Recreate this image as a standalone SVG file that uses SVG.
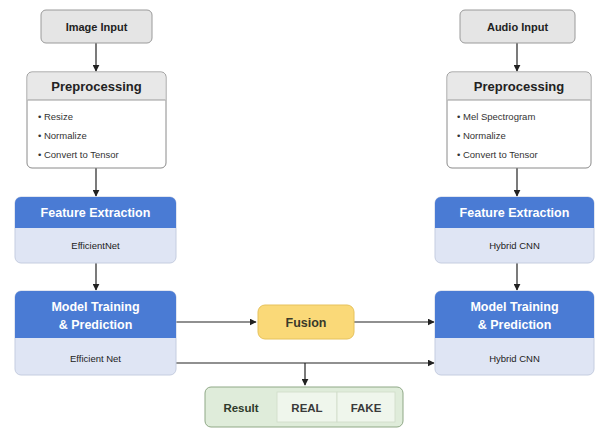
<svg xmlns="http://www.w3.org/2000/svg" width="595" height="431" viewBox="0 0 595 431">
<defs>
<marker id="ah" viewBox="0 0 10 10" refX="9" refY="5" markerWidth="7" markerHeight="7" markerUnits="userSpaceOnUse" orient="auto"><path d="M0,0 L10,5 L0,10 z" fill="#222"/></marker>
<style>
text{font-family:"Liberation Sans",Arial,sans-serif;}
.in{fill:#e5e5e5;stroke:#9a9a9a;stroke-width:1}
.pb{fill:#ffffff;stroke:#8a8a8a;stroke-width:1}
.ph{fill:#e8e8e8}
.bh{fill:#4a7bd4}
.bb{fill:#dfe5f4;stroke:#c5cde0;stroke-width:1}
.t1{font-size:11px;font-weight:bold;fill:#222;text-anchor:middle}
.t2{font-size:13px;font-weight:bold;fill:#222;text-anchor:middle}
.bl{font-size:9.5px;fill:#333}
.tw{font-size:12.5px;font-weight:bold;fill:#fff;text-anchor:middle}
.ts{font-size:9.5px;fill:#222;text-anchor:middle}
.c{stroke:#222;stroke-width:1.2;fill:none;marker-end:url(#ah)}
</style>
</defs>
<rect width="595" height="431" fill="#fff"/>
<g id="connectors">
<line class="c" x1="96" y1="43" x2="96" y2="71"/>
<line class="c" x1="96" y1="168" x2="96" y2="196"/>
<line class="c" x1="96" y1="263" x2="96" y2="290"/>
<line class="c" x1="517" y1="43" x2="517" y2="71"/>
<line class="c" x1="517" y1="168" x2="517" y2="196"/>
<line class="c" x1="517" y1="263" x2="517" y2="290"/>
<line class="c" x1="176" y1="322" x2="256" y2="322"/>
<line class="c" x1="354" y1="322" x2="434" y2="322"/>
<line class="c" x1="176" y1="363" x2="434" y2="363"/>
<line class="c" x1="305" y1="363" x2="305" y2="385"/>
</g>
<g id="image-input">
<rect class="in" x="41" y="10" width="111" height="33" rx="5"/>
<text class="t1" x="96.5" y="30.5">Image Input</text>
</g>
<g id="audio-input">
<rect class="in" x="460" y="10" width="115" height="33" rx="5"/>
<text class="t1" x="517.5" y="30.5">Audio Input</text>
</g>
<g id="preprocessing-left">
<rect class="pb" x="27" y="72" width="139" height="96" rx="5"/>
<path class="ph" d="M32,72.5 H161 A4.5,4.5 0 0 1 165.5,77 V100 H27.5 V77 A4.5,4.5 0 0 1 32,72.5 z"/>
<line x1="27.5" y1="100" x2="165.5" y2="100" stroke="#9a9a9a" stroke-width="1"/>
<text class="t2" x="96.5" y="91">Preprocessing</text>
<text class="bl" x="38" y="120">• Resize</text>
<text class="bl" x="38" y="139">• Normalize</text>
<text class="bl" x="38" y="158">• Convert to Tensor</text>
</g>
<g id="preprocessing-right">
<rect class="pb" x="447" y="72" width="144" height="96" rx="5"/>
<path class="ph" d="M452,72.5 H586 A4.5,4.5 0 0 1 590.5,77 V100 H447.5 V77 A4.5,4.5 0 0 1 452,72.5 z"/>
<line x1="447.5" y1="100" x2="590.5" y2="100" stroke="#9a9a9a" stroke-width="1"/>
<text class="t2" x="519" y="91">Preprocessing</text>
<text class="bl" x="457" y="120">• Mel Spectrogram</text>
<text class="bl" x="457" y="139">• Normalize</text>
<text class="bl" x="457" y="158">• Convert to Tensor</text>
</g>
<g id="feature-left">
<rect class="bb" x="15" y="197" width="161" height="66" rx="6"/>
<path class="bh" d="M21,197 H170 A6,6 0 0 1 176,203 V228 H15 V203 A6,6 0 0 1 21,197 z"/>
<text class="tw" x="95.5" y="217">Feature Extraction</text>
<text class="ts" x="95.5" y="249">EfficientNet</text>
</g>
<g id="feature-right">
<rect class="bb" x="435" y="197" width="159" height="66" rx="6"/>
<path class="bh" d="M441,197 H588 A6,6 0 0 1 594,203 V228 H435 V203 A6,6 0 0 1 441,197 z"/>
<text class="tw" x="514.5" y="217">Feature Extraction</text>
<text class="ts" x="514.5" y="249">Hybrid CNN</text>
</g>
<g id="model-left">
<rect class="bb" x="15" y="291" width="161" height="84" rx="6"/>
<path class="bh" d="M21,291 H170 A6,6 0 0 1 176,297 V338 H15 V297 A6,6 0 0 1 21,291 z"/>
<text class="tw" x="95.5" y="311">Model Training</text>
<text class="tw" x="95.5" y="329">&amp; Prediction</text>
<text class="ts" x="95.5" y="362">Efficient Net</text>
</g>
<g id="model-right">
<rect class="bb" x="435" y="291" width="159" height="84" rx="6"/>
<path class="bh" d="M441,291 H588 A6,6 0 0 1 594,297 V338 H435 V297 A6,6 0 0 1 441,291 z"/>
<text class="tw" x="514.5" y="311">Model Training</text>
<text class="tw" x="514.5" y="329">&amp; Prediction</text>
<text class="ts" x="514.5" y="362">Hybrid CNN</text>
</g>
<g id="fusion">
<rect x="258" y="305" width="96" height="34" rx="7" fill="#fad978" stroke="#e6c25c" stroke-width="1"/>
<text x="306" y="326.5" font-size="12.5" font-weight="bold" fill="#3a3a2a" text-anchor="middle">Fusion</text>
</g>
<g id="result">
<rect x="205" y="387" width="198" height="40" rx="6" fill="#dfecda" stroke="#8fa886" stroke-width="1"/>
<rect x="277" y="392" width="60" height="30" fill="#eff6ec" stroke="#cfdcc9" stroke-width="0.8"/>
<rect x="337" y="392" width="58" height="30" fill="#eff6ec" stroke="#cfdcc9" stroke-width="0.8"/>
<text x="241" y="411.5" font-size="11.5" font-weight="bold" fill="#2e3a2a" text-anchor="middle">Result</text>
<text x="307" y="411.5" font-size="11.5" font-weight="bold" fill="#3a3a3a" text-anchor="middle">REAL</text>
<text x="366" y="411.5" font-size="11.5" font-weight="bold" fill="#3a3a3a" text-anchor="middle">FAKE</text>
</g>
</svg>
